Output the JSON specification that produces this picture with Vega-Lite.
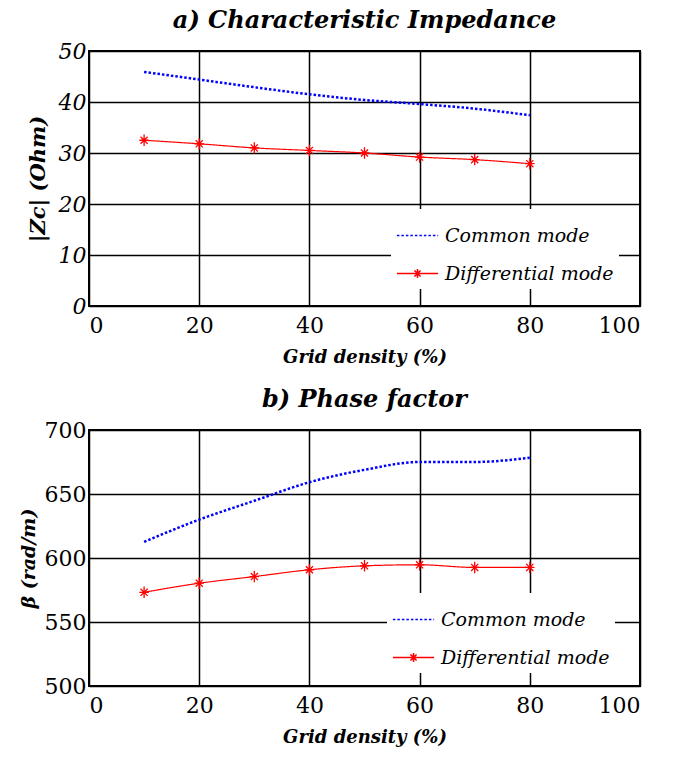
{
  "$schema": "https://vega.github.io/schema/vega-lite/v6.json",
  "background": "white",
  "padding": {"left": 18, "top": 8, "right": 5, "bottom": 5},
  "spacing": 124,
  "bounds": "flush",
  "resolve": {
    "scale": {"color": "independent", "strokeDash": "independent", "shape": "independent"},
    "legend": {"color": "independent", "strokeDash": "independent", "shape": "independent"}
  },
  "config": {
    "font": "DejaVu Serif",
    "view": {"stroke": "black", "strokeWidth": 2},
    "axis": {
      "labelFont": "DejaVu Serif",
      "labelFontSize": 22,
      "labelColor": "black",
      "titleFont": "DejaVu Serif",
      "titleFontSize": 18,
      "titleFontWeight": "bold",
      "titleFontStyle": "italic",
      "titleColor": "black",
      "grid": true,
      "gridColor": "black",
      "gridWidth": 1.5,
      "gridOpacity": 1,
      "ticks": false,
      "domain": false,
      "labelPadding": 3
    },
    "title": {"font": "DejaVu Serif", "fontSize": 24, "fontWeight": "bold", "fontStyle": "italic", "color": "black", "offset": 7},
    "legend": {
      "orient": "none",
      "fillColor": "white",
      "labelFont": "DejaVu Serif",
      "labelFontSize": 19,
      "labelFontStyle": "italic",
      "labelColor": "black",
      "labelLimit": 400,
      "symbolSize": 1700,
      "symbolStrokeWidth": 1.5,
      "symbolOpacity": 1,
      "rowPadding": 6,
      "labelOffset": 6,
      "padding": 5,
      "title": null
    }
  },
  "datasets": {
    "imp": [
      {"x": 10, "y": 45.9, "series": "Common mode"},
      {"x": 20, "y": 44.4, "series": "Common mode"},
      {"x": 30, "y": 42.9, "series": "Common mode"},
      {"x": 40, "y": 41.5, "series": "Common mode"},
      {"x": 50, "y": 40.4, "series": "Common mode"},
      {"x": 60, "y": 39.6, "series": "Common mode"},
      {"x": 70, "y": 38.7, "series": "Common mode"},
      {"x": 80, "y": 37.4, "series": "Common mode"},
      {"x": 10, "y": 32.5, "series": "Differential mode"},
      {"x": 20, "y": 31.8, "series": "Differential mode"},
      {"x": 30, "y": 31.0, "series": "Differential mode"},
      {"x": 40, "y": 30.5, "series": "Differential mode"},
      {"x": 50, "y": 30.0, "series": "Differential mode"},
      {"x": 60, "y": 29.2, "series": "Differential mode"},
      {"x": 70, "y": 28.7, "series": "Differential mode"},
      {"x": 80, "y": 27.9, "series": "Differential mode"}
    ],
    "phase": [
      {"x": 10, "y": 612.6, "series": "Common mode"},
      {"x": 20, "y": 630.0, "series": "Common mode"},
      {"x": 30, "y": 644.7, "series": "Common mode"},
      {"x": 40, "y": 659.2, "series": "Common mode"},
      {"x": 50, "y": 668.9, "series": "Common mode"},
      {"x": 60, "y": 675.0, "series": "Common mode"},
      {"x": 70, "y": 675.0, "series": "Common mode"},
      {"x": 80, "y": 678.4, "series": "Common mode"},
      {"x": 10, "y": 573.2, "series": "Differential mode"},
      {"x": 20, "y": 580.3, "series": "Differential mode"},
      {"x": 30, "y": 585.5, "series": "Differential mode"},
      {"x": 40, "y": 590.8, "series": "Differential mode"},
      {"x": 50, "y": 593.9, "series": "Differential mode"},
      {"x": 60, "y": 594.7, "series": "Differential mode"},
      {"x": 70, "y": 592.6, "series": "Differential mode"},
      {"x": 80, "y": 592.6, "series": "Differential mode"}
    ]
  },
  "vconcat": [
    {
      "title": "a) Characteristic Impedance",
      "width": 551,
      "height": 255,
      "data": {"name": "imp"},
      "encoding": {
        "x": {"field": "x", "type": "quantitative", "scale": {"domain": [0, 100]}, "axis": {"title": "Grid density (%)", "values": [0, 20, 40, 60, 80, 100], "labelPadding": 9, "titlePadding": 12}},
        "y": {"field": "y", "type": "quantitative", "scale": {"domain": [0, 50]}, "axis": {"title": "|Zc| (Ohm)", "titleFontSize": 21, "values": [0, 10, 20, 30, 40, 50], "labelFontStyle": "italic", "titlePadding": 10}}
      },
      "layer": [
        {
          "mark": {"type": "line", "interpolate": "monotone"},
          "encoding": {
            "color": {"field": "series", "type": "nominal", "scale": {"domain": ["Common mode", "Differential mode"], "range": ["#0000ff", "#ff0000"]}, "legend": {"legendX": 302, "legendY": 158}},
            "strokeDash": {"field": "series", "type": "nominal", "scale": {"domain": ["Common mode", "Differential mode"], "range": [[2.5, 2], [1, 0]]}, "legend": {"legendX": 302, "legendY": 158}},
            "strokeWidth": {"condition": {"test": "datum.series === 'Common mode'", "value": 2.5}, "value": 1.2}
          }
        },
        {
          "transform": [{"filter": "datum.series === 'Differential mode'"}],
          "mark": {"type": "point", "shape": "M-1,0L1,0M0,-1.2L0,1.2M-0.75,-0.75L0.75,0.75M-0.75,0.75L0.75,-0.75", "size": 90, "filled": false, "strokeWidth": 1.3, "color": "#ff0000", "opacity": 1},
          "encoding": {}
        },
        {
          "transform": [{"filter": "false"}],
          "mark": {"type": "point", "filled": false, "strokeWidth": 1.5},
          "encoding": {
            "color": {"field": "series", "type": "nominal"},
            "shape": {"field": "series", "type": "nominal", "scale": {"domain": ["Common mode", "Differential mode"], "range": ["M-1,0L1,0", "M-1,0L1,0M0,-0.22L0,0.22M-0.15,-0.15L0.15,0.15M-0.15,0.15L0.15,-0.15"]}, "legend": {"legendX": 302, "legendY": 158}}
          }
        }
      ]
    },
    {
      "title": "b) Phase factor",
      "width": 551,
      "height": 256,
      "data": {"name": "phase"},
      "encoding": {
        "x": {"field": "x", "type": "quantitative", "scale": {"domain": [0, 100]}, "axis": {"title": "Grid density (%)", "values": [0, 20, 40, 60, 80, 100], "labelPadding": 9, "titlePadding": 12}},
        "y": {"field": "y", "type": "quantitative", "scale": {"domain": [500, 700]}, "axis": {"title": "β (rad/m)", "titleFontSize": 19, "values": [500, 550, 600, 650, 700], "titlePadding": 6}}
      },
      "layer": [
        {
          "mark": {"type": "line", "interpolate": "monotone"},
          "encoding": {
            "color": {"field": "series", "type": "nominal", "scale": {"domain": ["Common mode", "Differential mode"], "range": ["#0000ff", "#ff0000"]}, "legend": {"legendX": 298, "legendY": 163}},
            "strokeDash": {"field": "series", "type": "nominal", "scale": {"domain": ["Common mode", "Differential mode"], "range": [[2.5, 2], [1, 0]]}, "legend": {"legendX": 298, "legendY": 163}},
            "strokeWidth": {"condition": {"test": "datum.series === 'Common mode'", "value": 2.5}, "value": 1.2}
          }
        },
        {
          "transform": [{"filter": "datum.series === 'Differential mode'"}],
          "mark": {"type": "point", "shape": "M-1,0L1,0M0,-1.2L0,1.2M-0.75,-0.75L0.75,0.75M-0.75,0.75L0.75,-0.75", "size": 90, "filled": false, "strokeWidth": 1.3, "color": "#ff0000", "opacity": 1},
          "encoding": {}
        },
        {
          "transform": [{"filter": "false"}],
          "mark": {"type": "point", "filled": false, "strokeWidth": 1.5},
          "encoding": {
            "color": {"field": "series", "type": "nominal"},
            "shape": {"field": "series", "type": "nominal", "scale": {"domain": ["Common mode", "Differential mode"], "range": ["M-1,0L1,0", "M-1,0L1,0M0,-0.22L0,0.22M-0.15,-0.15L0.15,0.15M-0.15,0.15L0.15,-0.15"]}, "legend": {"legendX": 298, "legendY": 163}}
          }
        }
      ]
    }
  ]
}
